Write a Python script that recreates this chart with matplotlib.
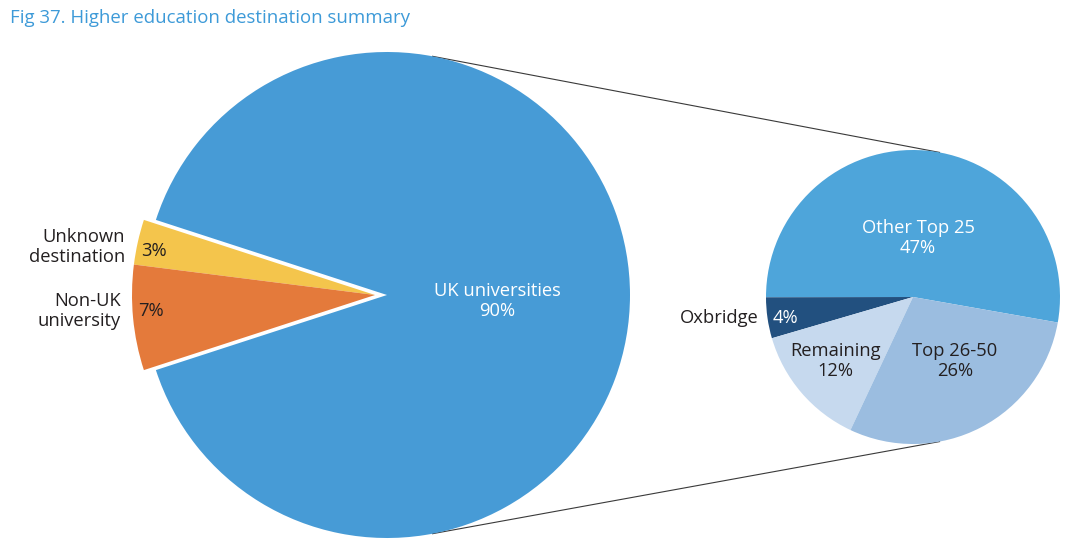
import numpy as np
import matplotlib
matplotlib.use('Agg')
import matplotlib.pyplot as plt

plt.rcParams['font.family'] = ['Open Sans', 'DejaVu Sans']

# main pie: UK universities, then the two small slices pulled out on the left
main_labels = ["UK universities", "Unknown\ndestination", "Non-UK\nuniversity"]
main_values = [90, 3, 7]
main_colors = ["#479bd6", "#f4c54c", "#e47a3b"]

# breakdown of UK universities
uk_labels = ["Other Top 25", "Oxbridge", "Remaining", "Top 26-50"]
uk_values = [47, 4, 12, 26]
uk_colors = ["#4ea5da", "#22507f", "#c6d9ee", "#9bbde0"]

dark = "#231f20"

fig = plt.figure(figsize=(10.8, 5.52), dpi=100)
ax = fig.add_axes([0, 0, 1, 1])

# big pie
c1 = (387, 257)
r1 = 243
w1, _ = ax.pie(main_values, colors=main_colors, startangle=198, center=c1,
               radius=r1, frame=True, wedgeprops=dict(linewidth=0))
for w in w1[1:]:
    w.set_center((c1[0] - 12, c1[1]))

# small pie
c2 = (913, 255)
r2 = 147
w2, _ = ax.pie(uk_values, colors=uk_colors, startangle=-10, center=c2,
               radius=r2, frame=True, wedgeprops=dict(linewidth=0))
ax.set_xlim(0, 1080)
ax.set_ylim(0, 552)
ax.set_aspect('equal')
ax.axis('off')

# connector lines
for ang in (79.2, -79.2):
    a1 = np.radians(ang)
    a2 = np.radians(ang * 1.005)
    ax.plot([c1[0] + r1 * np.cos(a1), c2[0] + r2 * np.cos(a2)],
            [c1[1] + r1 * np.sin(a1), c2[1] + r2 * np.sin(a2)],
            color="#3a3a3a", lw=0.8, zorder=0)

fs = 13.2
ls = 1.15
ax.text(497, 552 - 301, f"{main_labels[0]}\n{main_values[0]}%", color="white",
        fontsize=fs, ha="center", va="center", linespacing=ls)
ax.text(125, 552 - 247, main_labels[1], color=dark, fontsize=fs,
        ha="right", va="center", linespacing=ls)
ax.text(121, 552 - 311, main_labels[2], color=dark, fontsize=fs,
        ha="right", va="center", linespacing=ls)
ax.text(154, 552 - 251, f"{main_values[1]}%", color=dark, fontsize=fs,
        ha="center", va="center")
ax.text(151, 552 - 311, f"{main_values[2]}%", color=dark, fontsize=fs,
        ha="center", va="center")

ax.text(918, 552 - 238, f"{uk_labels[0]}\n{uk_values[0]}%", color="white",
        fontsize=fs, ha="center", va="center", linespacing=ls)
ax.text(759, 552 - 318, uk_labels[1], color=dark, fontsize=fs,
        ha="right", va="center")
ax.text(785, 552 - 318, f"{uk_values[1]}%", color="white", fontsize=fs,
        ha="center", va="center")
ax.text(835, 552 - 361, f"{uk_labels[2]}\n{uk_values[2]}%", color=dark,
        fontsize=fs, ha="center", va="center", linespacing=ls)
ax.text(955, 552 - 361, f"{uk_labels[3]}\n{uk_values[3]}%", color=dark,
        fontsize=fs, ha="center", va="center", linespacing=ls)

ax.text(10, 552 - 18, "Fig 37. Higher education destination summary",
        color="#3d9ad8", fontsize=13.4, ha="left", va="center")

fig.savefig("out.png", dpi=100)
